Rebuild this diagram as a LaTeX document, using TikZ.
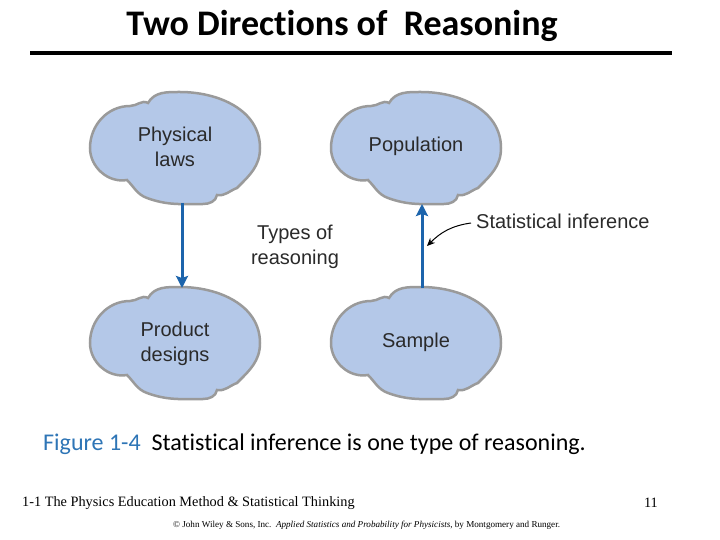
\documentclass[tikz,border=0pt]{standalone}
\usepackage{fontspec}
\setmainfont{Liberation Serif}
\newfontfamily\titlefont[Ligatures=NoCommon]{Carlito}
\newfontfamily\figfont{Liberation Sans}
\usetikzlibrary{arrows.meta}
\definecolor{blobfill}{HTML}{B4C8E8}
\definecolor{blobedge}{HTML}{9A9A9A}
\definecolor{arrowblue}{HTML}{1C64AC}
\definecolor{capblue}{HTML}{2E75B6}
\definecolor{figtext}{HTML}{2A2A2A}
\tikzset{
  blobline/.style={draw=blobedge, fill=blobfill, line width=2.5pt},
  pics/blob/.style={code={
    \draw[blobline] (-85,0) to[out=90, in=180] (-45,-42)
      to[out=0, in=150] (-27,-45)
      to[out=60, in=180] (5,-56)
      to[out=0, in=90] (85,0)
      to[out=270, in=45] (62,40)
      to[out=200, in=350] (42,47)
      to[out=260, in=0] (28,56)
      to[out=180, in=340] (-28,50)
      to[out=160, in=315] (-48,32)
      to[out=190, in=270] cycle;
  }},
  blobtext/.style={font=\figfont\fontsize{20}{25}\selectfont, text=figtext, align=center, inner sep=0pt},
  reasonarrow/.style={draw=arrowblue, line width=3pt, -{Stealth[length=12pt, width=12pt, inset=2pt]}},
  pointer/.style={draw=black, line width=1pt, -{Stealth[length=8pt, width=7pt]}}
}
\begin{document}
\begin{tikzpicture}[x=1pt, y=-1pt]
\useasboundingbox (0,0) rectangle (720,540);
\fill[white] (0,0) rectangle (720,540);

\node[font=\titlefont\bfseries\fontsize{36}{38}\selectfont, inner sep=0pt] (title) at (342,26) {Two Directions of\ \ Reasoning};
\draw[line width=4pt] (30,53) -- (672,53);

\pic at (175,148) {blob};
\pic at (175,343) {blob};
\pic at (416,148) {blob};
\pic at (416,343) {blob};

\node[blobtext] (phys) at (175,147) {Physical\\laws};
\node[blobtext] (prod) at (175,344) {Product\\designs};
\node[blobtext] (pop) at (416,146) {Population};
\node[blobtext] (samp) at (416,342) {Sample};
\node[blobtext] (types) at (295,247) {Types of\\reasoning};
\node[blobtext, anchor=west] (stat) at (476,221) {Statistical inference};

\coordinate (physbot) at (182,203);
\coordinate (prodtop) at (182,288);
\coordinate (poptop) at (422,204);
\coordinate (sampbot) at (422,288);
\coordinate (hit) at (427,246);

\draw[reasonarrow] (physbot) -- (prodtop);
\draw[reasonarrow] (sampbot) -- (poptop);
\draw[pointer] (stat.west) ++(-5,2) to[out=188, in=45] (hit);

\node[font=\titlefont\fontsize{24}{26}\selectfont, anchor=west, inner sep=0pt] (caption) at (43,444) {\textcolor{capblue}{Figure 1-4}\ \ Statistical inference is one type of reasoning.};

\node[font=\fontsize{14.3}{16}\selectfont, anchor=west, inner sep=0pt] (footer) at (22,503) {1-1 The Physics Education Method \& Statistical Thinking};
\node[font=\fontsize{14.3}{16}\selectfont, anchor=east, inner sep=0pt] (page) at (658,503) {11};
\node[font=\fontsize{9.1}{10}\selectfont, anchor=west, inner sep=0pt] (copy) at (173,525) {\textcopyright{} John Wiley \& Sons, Inc.\ \ \textit{Applied Statistics and Probability for Physicists}, by Montgomery and Runger.};
\end{tikzpicture}
\end{document}
